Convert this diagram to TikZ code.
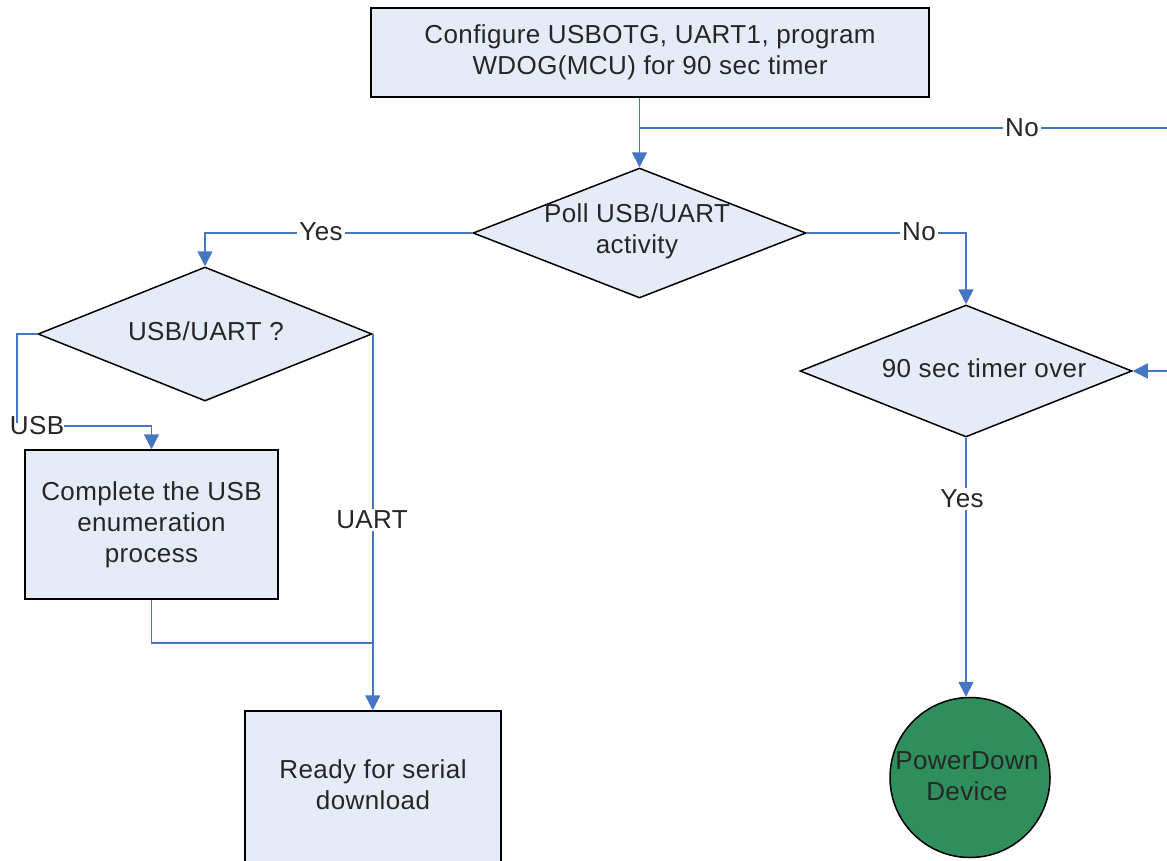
\documentclass[tikz,border=0pt]{standalone}
\usepackage{fontspec}
\setmainfont[LetterSpace=1.5]{Liberation Sans}
\usetikzlibrary{shapes.geometric,arrows.meta}
\definecolor{boxfill}{RGB}{230,236,247}
\definecolor{flow}{RGB}{70,117,196}
\definecolor{stopgreen}{RGB}{47,143,92}
\begin{document}
\begin{tikzpicture}[x=1pt,y=-1pt,
  every node/.style={font=\fontsize{26}{31}\selectfont, text=black!85},
  procbox/.style={draw=black, line width=1.5pt, fill=boxfill, rectangle, inner sep=0pt, align=center},
  decision/.style={draw=black, line width=1.5pt, fill=boxfill, diamond, inner sep=0pt},
  terminal/.style={draw=black, line width=1.5pt, fill=stopgreen, circle, inner sep=0pt},
  txt/.style={inner sep=0pt, align=center},
  flowline/.style={draw=flow, line width=1.6pt},
  flowarrow/.style={flowline, -{Triangle[length=15pt,width=15pt]}},
  tag/.style={fill=white, inner sep=2pt}
]
\clip (0,0) rectangle (1167,860);
\fill[white] (0,0) rectangle (1167,860);

% process steps and decisions
\node[procbox, minimum width=558pt, minimum height=89pt] (config) at (650,52.5)
  {Configure USBOTG, UART1, program\\WDOG(MCU) for 90 sec timer};
\node[decision, minimum width=333pt, minimum height=130pt] (poll) at (639.5,233) {};
\node[txt] (polltxt) at (637,231) {Poll USB/UART\\activity};
\node[decision, minimum width=334pt, minimum height=134pt] (usbq) at (205,334) {};
\node[txt] (usbqtxt) at (206,331) {USB/UART ?};
\node[procbox, minimum width=253pt, minimum height=149pt] (enum) at (151.5,524.5)
  {Complete the USB\\enumeration\\process};
\node[procbox, minimum width=256pt, minimum height=200pt] (ready) at (373,811) {};
\node[txt] (readytxt) at (373,785) {Ready for serial\\download};
\node[decision, minimum width=332pt, minimum height=132pt] (timer) at (966,371) {};
\node[txt] (timertxt) at (984,368) {90 sec timer over};
\node[terminal, minimum size=160pt] (pd) at (970,777.5) {};
\node[txt] (pdtxt) at (967,776) {PowerDown\\Device};

% loose ends at the right border
\coordinate (noR) at (1167,128);
\coordinate (timerIn) at (1167,371);
\coordinate (usbturn) at (17,334);
\coordinate (merge) at (372,643);

% connectors
\draw[flowarrow] (poll.north |- config.south) -- (poll.north);
\draw[flowline] (poll.north |- noR) -- (noR);
\node[tag] (notop) at (1022,128) {No};

\draw[flowarrow] (poll.west) -| (usbq.north);
\node[tag] (yes1) at (321,232) {Yes};
\draw[flowarrow] (poll.east) -| (timer.north);
\node[tag] (no1) at (919,232) {No};

\node[txt] (usbl) at (37,426) {USB};
\draw[flowline] (usbq.west) -- (usbturn) -- ([yshift=-6pt]usbturn |- usbl.north);
\draw[flowarrow] (usbl.east) -| (enum.north);

\draw[flowarrow] (usbq.east) -- (usbq.east |- ready.north);
\node[tag] (uartl) at (372,520) {UART};
\draw[flowline] (enum.south) |- (merge);

\draw[flowarrow] (timerIn |- timer.east) -- (timer.east);
\draw[flowarrow] (timer.south) -- (timer.south |- pd.north);
\node[tag] (yes2) at (962,499) {Yes};
\end{tikzpicture}
\end{document}
